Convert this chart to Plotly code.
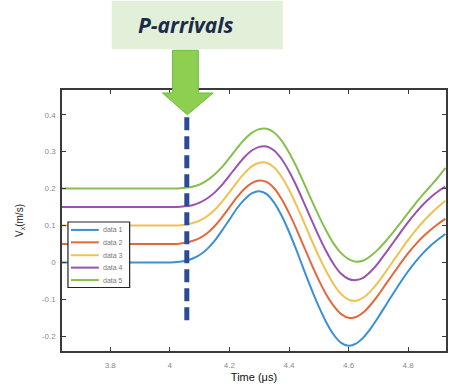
import plotly.graph_objects as go

# Sampled particle-velocity traces (five offset receivers)
time_us = [3.638, 3.900, 4.000, 4.025, 4.050, 4.075, 4.100, 4.125, 4.150, 4.175,
           4.200, 4.225, 4.250, 4.275, 4.300, 4.325, 4.350, 4.375, 4.400, 4.425,
           4.450, 4.475, 4.500, 4.525, 4.550, 4.575, 4.600, 4.625, 4.650, 4.675,
           4.700, 4.725, 4.750, 4.775, 4.800, 4.825, 4.850, 4.875, 4.900, 4.925]

data1 = [0.000, 0.000, 0.000, 0.001, 0.004, 0.010, 0.020, 0.036, 0.058, 0.086,
         0.116, 0.146, 0.170, 0.187, 0.193, 0.185, 0.162, 0.127, 0.083, 0.033,
         -0.020, -0.072, -0.120, -0.162, -0.196, -0.218, -0.226, -0.220, -0.203, -0.178,
         -0.148, -0.116, -0.084, -0.053, -0.024, 0.002, 0.025, 0.045, 0.062, 0.077]
data2 = [0.050, 0.050, 0.050, 0.050, 0.053, 0.058, 0.066, 0.079, 0.098, 0.122,
         0.149, 0.176, 0.199, 0.215, 0.222, 0.218, 0.201, 0.172, 0.134, 0.090,
         0.043, -0.004, -0.048, -0.087, -0.118, -0.140, -0.150, -0.148, -0.135, -0.114,
         -0.088, -0.059, -0.030, -0.002, 0.025, 0.049, 0.070, 0.088, 0.104, 0.118]
data3 = [0.100, 0.100, 0.100, 0.100, 0.102, 0.106, 0.113, 0.125, 0.142, 0.164,
         0.190, 0.217, 0.241, 0.260, 0.270, 0.270, 0.257, 0.232, 0.197, 0.155,
         0.109, 0.062, 0.017, -0.024, -0.059, -0.086, -0.101, -0.104, -0.095, -0.077,
         -0.053, -0.025, 0.004, 0.033, 0.061, 0.087, 0.110, 0.131, 0.150, 0.167]
data4 = [0.150, 0.150, 0.150, 0.150, 0.152, 0.155, 0.162, 0.173, 0.189, 0.210,
         0.235, 0.261, 0.285, 0.303, 0.313, 0.314, 0.303, 0.280, 0.247, 0.207,
         0.162, 0.116, 0.071, 0.030, -0.005, -0.031, -0.045, -0.048, -0.041, -0.024,
         -0.001, 0.026, 0.054, 0.082, 0.109, 0.134, 0.157, 0.176, 0.192, 0.205]
data5 = [0.200, 0.200, 0.200, 0.200, 0.202, 0.205, 0.211, 0.222, 0.238, 0.258,
         0.283, 0.309, 0.333, 0.351, 0.361, 0.362, 0.352, 0.330, 0.298, 0.259,
         0.215, 0.170, 0.126, 0.086, 0.051, 0.025, 0.009, 0.002, 0.005, 0.018,
         0.036, 0.058, 0.082, 0.108, 0.134, 0.160, 0.184, 0.207, 0.230, 0.256]

series_names = ["data 1", "data 2", "data 3", "data 4", "data 5"]
series_values = [data1, data2, data3, data4, data5]
series_colors = ["#3b8fd4", "#e5683c", "#f0c150", "#9a52ad", "#86c04c"]

# P-wave arrival marker
p_arrival_time = 4.057
p_marker_span = [-0.157, 0.40]

x_ticks = [3.8, 4.0, 4.2, 4.4, 4.6, 4.8]
x_tick_text = ["3.8", "4", "4.2", "4.4", "4.6", "4.8"]
y_ticks = [-0.2, -0.1, 0.0, 0.1, 0.2, 0.3, 0.4]
y_tick_text = ["-0.2", "-0.1", "0", "0.1", "0.2", "0.3", "0.4"]

W, H = 454, 388
ML, MR, MT, MB = 62, 6, 90, 35
PW, PH = W - ML - MR, H - MT - MB


def px(x):
    return (x - ML) / PW


def py(y):
    return (H - MB - y) / PH


fig = go.Figure()

for name, vals, col in zip(series_names, series_values, series_colors):
    fig.add_trace(go.Scatter(
        x=time_us, y=vals, name=name, mode="lines",
        line=dict(color=col, width=2, shape="spline", smoothing=0.6),
        showlegend=False,
    ))

# dashed arrival line
fig.add_trace(go.Scatter(
    x=[p_arrival_time, p_arrival_time], y=p_marker_span, mode="lines",
    line=dict(color="#2b4b96", width=5, dash="13px,6px"),
    showlegend=False, hoverinfo="skip",
))

# boxed legend drawn over the traces
fig.add_shape(type="rect", xref="paper", yref="paper",
              x0=px(68), x1=px(130), y0=py(289), y1=py(223),
              fillcolor="white", line=dict(color="#222", width=1.2), layer="above")
legend_rows = [231, 243.5, 256.5, 269, 281.5]
for name, col, ry in zip(series_names, series_colors, legend_rows):
    fig.add_shape(type="line", xref="paper", yref="paper",
                  x0=px(71), x1=px(99), y0=py(ry), y1=py(ry),
                  line=dict(color=col, width=2), layer="above")
    fig.add_annotation(xref="paper", yref="paper", x=px(101), y=py(ry),
                       text=name, showarrow=False, xanchor="left", yanchor="middle",
                       font=dict(family="Liberation Sans", size=7, color="#777"))

# label box
fig.add_shape(type="rect", xref="paper", yref="paper",
              x0=px(112), x1=px(284), y0=py(49), y1=py(0),
              fillcolor="#e2efd9", line=dict(width=0), layer="above")
fig.add_annotation(xref="paper", yref="paper", x=px(186), y=py(25),
                   text="<b><i>P-arrivals</i></b>", showarrow=False,
                   font=dict(family="Open Sans", size=21, color="#1c2a4a"),
                   xanchor="center", yanchor="middle")

# green block arrow
pts = [(173, 50), (199, 50), (199, 93), (214, 93), (188, 115), (163, 93), (173, 93)]
path = "M " + " L ".join(f"{px(a):.5f},{py(b):.5f}" for a, b in pts) + " Z"
fig.add_shape(type="path", xref="paper", yref="paper", path=path,
              fillcolor="#8dcf50", line=dict(color="#6cbf3c", width=1), layer="above")

axis_common = dict(
    showline=True, linecolor="#3a3a3a", linewidth=1.5, mirror="ticks",
    ticks="inside", ticklen=4, tickcolor="#3a3a3a", tickwidth=1,
    showgrid=False, zeroline=False,
    tickfont=dict(family="Liberation Sans", size=8, color="#8a8a8a"),
)

fig.update_layout(
    width=W, height=H,
    margin=dict(l=ML, r=MR, t=MT, b=MB),
    paper_bgcolor="white", plot_bgcolor="white",
    xaxis=dict(range=[3.638, 4.927], tickvals=x_ticks, ticktext=x_tick_text,
               ticklabelstandoff=6,
               title=dict(text="Time (μs)", standoff=4,
                          font=dict(family="Liberation Sans", size=11, color="#111")),
               **axis_common),
    yaxis=dict(range=[-0.24, 0.467], tickvals=y_ticks, ticktext=y_tick_text,
               ticklabelstandoff=3,
               title=dict(text="V<sub>x</sub>(m/s)", standoff=16,
                          font=dict(family="Liberation Sans", size=10, color="#222")),
               **axis_common),
    showlegend=False,
)

fig.write_html("out.html")
